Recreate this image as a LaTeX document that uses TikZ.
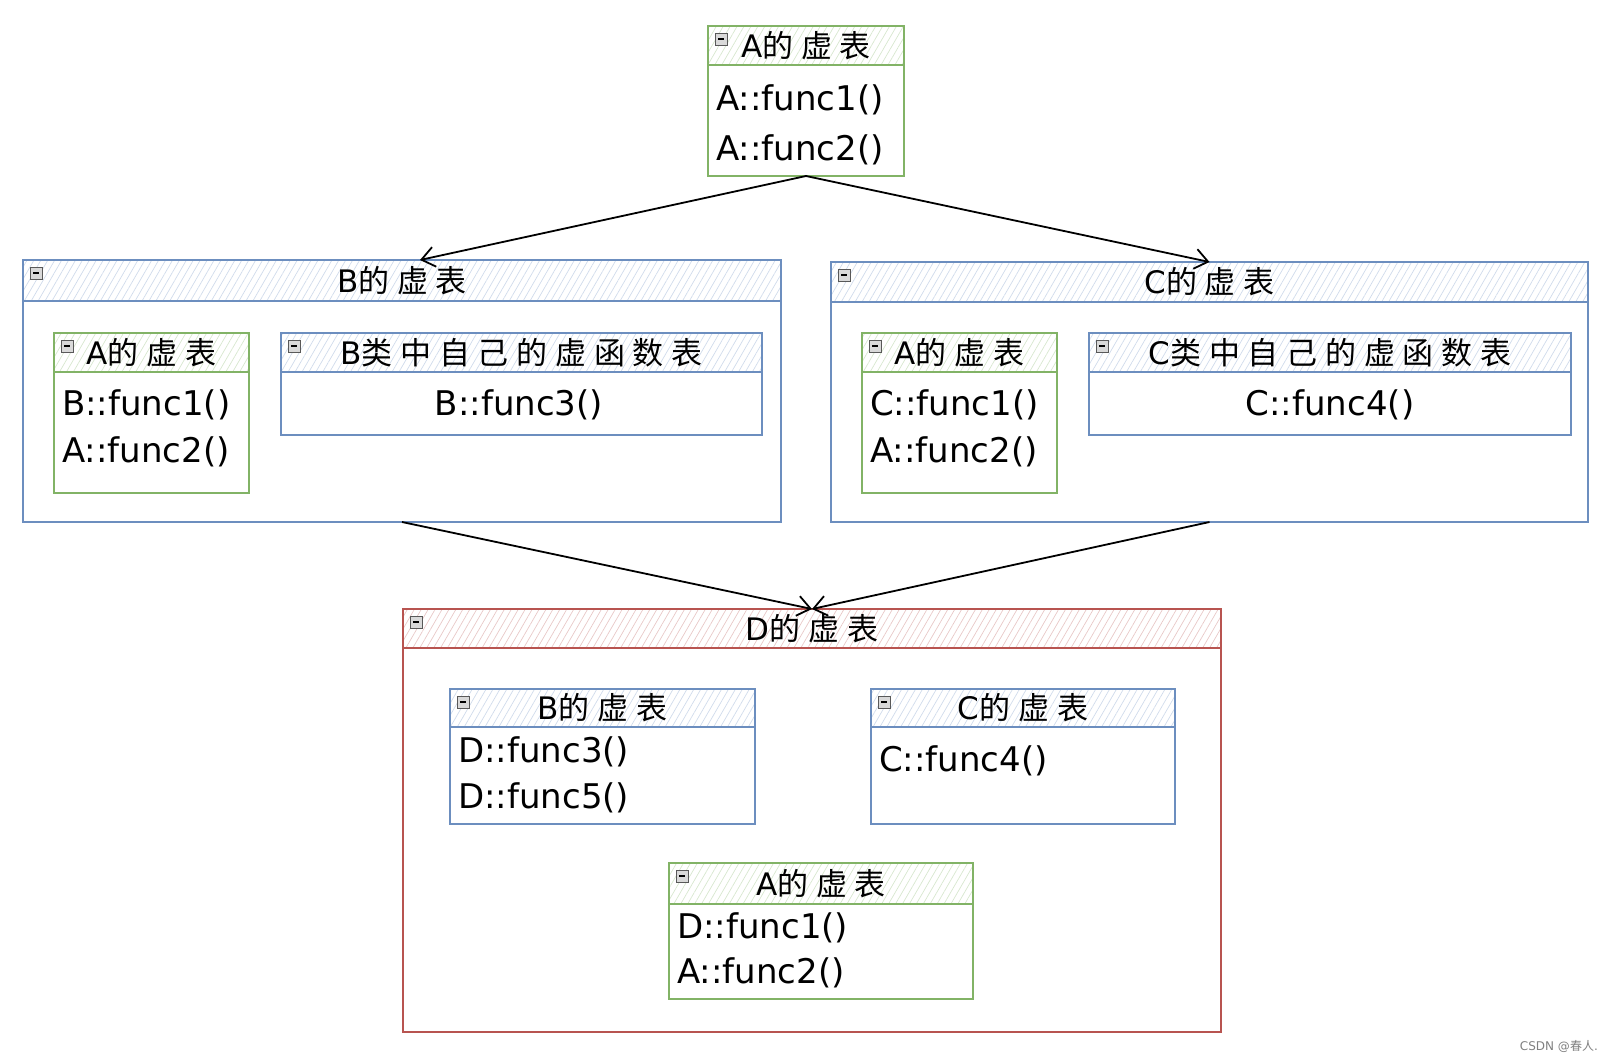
\documentclass[tikz,border=0pt]{standalone}
\usepackage{fontspec}
\setmainfont{DejaVu Sans}
\newfontfamily\cjk[LetterSpace=25]{Noto Sans CJK SC}
\newfontfamily\cjkplain{Noto Sans CJK SC}
\usepackage{tikz}
\usetikzlibrary{
	arrows.meta,									% 箭头
	patterns.meta,									% 表头的斜线填充
	positioning,									% 节点的相对摆放
}

\definecolor{gline}{HTML}{82B366}
\definecolor{bline}{HTML}{6C8EBF}
\definecolor{rline}{HTML}{B85450}
\newcommand\ttlfont{\fontsize{31}{37}\selectfont}
\newcommand\fnfont{\fontsize{34}{40}\selectfont}

\tikzset{
	tbl/.style={draw=#1, line width=1.5pt, rectangle, anchor=north west, inner sep=0pt, outer sep=0pt},
	hdr/.style={tbl=#1, pattern={Lines[angle=60,distance=6pt,line width=0.7pt]}, pattern color=#1!32, minimum height=39pt},
	icon/.style={draw=gray!70!black, fill=gray!30, line width=0.6pt, minimum size=12pt, inner sep=0pt, outer sep=0pt},
	ttl/.style={font=\ttlfont, inner sep=0pt},
	fn/.style={font=\fnfont, inner sep=0pt, anchor=west},
	link/.style={line width=1.8pt, -{Straight Barb[length=13pt,width=20pt,line width=1.8pt]}},
}

\begin{document}
\begin{tikzpicture}[x=1pt, y=-1pt]
	\useasboundingbox (0,0) rectangle (1609,1063);

	% A的虚表
	\node[tbl=gline, minimum width=196pt, minimum height=150pt] (tA) at (708,26) {};
	\node[hdr=gline, minimum width=196pt] (tAh) at (tA.north west) {};
	\node[icon, below right=7pt and 7pt of tAh.north west] (tAi) {\rule{6pt}{1.4pt}};
	\node[ttl] (tAt) at (tAh.center) {A{\cjk 的虚表}};
	\node[fn] (tA1) at (716,100) {A::func1()};
	\node[fn] (tA2) at (716,150) {A::func2()};

	% B的虚表
	\node[tbl=bline, minimum width=758pt, minimum height=262pt] (tB) at (23,260) {};
	\node[hdr=bline, minimum width=758pt, minimum height=41pt] (tBh) at (tB.north west) {};
	\node[icon, below right=7pt and 7pt of tBh.north west] (tBi) {\rule{6pt}{1.4pt}};
	\node[ttl] (tBt) at (tBh.center) {B{\cjk 的虚表}};

	\node[tbl=gline, minimum width=195pt, minimum height=160pt] (tBA) at (54,333) {};
	\node[hdr=gline, minimum width=195pt] (tBAh) at (tBA.north west) {};
	\node[icon, below right=7pt and 7pt of tBAh.north west] (tBAi) {\rule{6pt}{1.4pt}};
	\node[ttl] (tBAt) at (tBAh.center) {A{\cjk 的虚表}};
	\node[fn] (tBA1) at (62,405) {B::func1()};
	\node[fn] (tBA2) at (62,452) {A::func2()};

	\node[tbl=bline, minimum width=481pt, minimum height=102pt] (tBB) at (281,333) {};
	\node[hdr=bline, minimum width=481pt] (tBBh) at (tBB.north west) {};
	\node[icon, below right=7pt and 7pt of tBBh.north west] (tBBi) {\rule{6pt}{1.4pt}};
	\node[ttl] (tBBt) at (tBBh.center) {B{\cjk 类中自己的虚函数表}};
	\node[fn, anchor=center] (tBB1) at (519,405) {B::func3()};

	% C的虚表
	\node[tbl=bline, minimum width=757pt, minimum height=260pt] (tC) at (831,262) {};
	\node[hdr=bline, minimum width=757pt, minimum height=40pt] (tCh) at (tC.north west) {};
	\node[icon, below right=7pt and 7pt of tCh.north west] (tCi) {\rule{6pt}{1.4pt}};
	\node[ttl] (tCt) at (tCh.center) {C{\cjk 的虚表}};

	\node[tbl=gline, minimum width=195pt, minimum height=160pt] (tCA) at (862,333) {};
	\node[hdr=gline, minimum width=195pt] (tCAh) at (tCA.north west) {};
	\node[icon, below right=7pt and 7pt of tCAh.north west] (tCAi) {\rule{6pt}{1.4pt}};
	\node[ttl] (tCAt) at (tCAh.center) {A{\cjk 的虚表}};
	\node[fn] (tCA1) at (870,405) {C::func1()};
	\node[fn] (tCA2) at (870,452) {A::func2()};

	\node[tbl=bline, minimum width=482pt, minimum height=102pt] (tCC) at (1089,333) {};
	\node[hdr=bline, minimum width=482pt] (tCCh) at (tCC.north west) {};
	\node[icon, below right=7pt and 7pt of tCCh.north west] (tCCi) {\rule{6pt}{1.4pt}};
	\node[ttl] (tCCt) at (tCCh.center) {C{\cjk 类中自己的虚函数表}};
	\node[fn, anchor=center] (tCC1) at (1330,405) {C::func4()};

	% D的虚表
	\node[tbl=rline, minimum width=818pt, minimum height=423pt] (tD) at (403,609) {};
	\node[hdr=rline, minimum width=818pt] (tDh) at (tD.north west) {};
	\node[icon, below right=7pt and 7pt of tDh.north west] (tDi) {\rule{6pt}{1.4pt}};
	\node[ttl] (tDt) at (tDh.center) {D{\cjk 的虚表}};

	\node[tbl=bline, minimum width=305pt, minimum height=135pt] (tDB) at (450,689) {};
	\node[hdr=bline, minimum width=305pt, minimum height=38pt] (tDBh) at (tDB.north west) {};
	\node[icon, below right=7pt and 7pt of tDBh.north west] (tDBi) {\rule{6pt}{1.4pt}};
	\node[ttl] (tDBt) at (tDBh.center) {B{\cjk 的虚表}};
	\node[fn] (tDB1) at (458,752) {D::func3()};
	\node[fn] (tDB2) at (458,798) {D::func5()};

	\node[tbl=bline, minimum width=304pt, minimum height=135pt] (tDC) at (871,689) {};
	\node[hdr=bline, minimum width=304pt, minimum height=38pt] (tDCh) at (tDC.north west) {};
	\node[icon, below right=7pt and 7pt of tDCh.north west] (tDCi) {\rule{6pt}{1.4pt}};
	\node[ttl] (tDCt) at (tDCh.center) {C{\cjk 的虚表}};
	\node[fn] (tDC1) at (879,761) {C::func4()};

	\node[tbl=gline, minimum width=304pt, minimum height=136pt] (tDA) at (669,863) {};
	\node[hdr=gline, minimum width=304pt, minimum height=41pt] (tDAh) at (tDA.north west) {};
	\node[icon, below right=7pt and 7pt of tDAh.north west] (tDAi) {\rule{6pt}{1.4pt}};
	\node[ttl] (tDAt) at (tDAh.center) {A{\cjk 的虚表}};
	\node[fn] (tDA1) at (677,928) {D::func1()};
	\node[fn] (tDA2) at (677,973) {A::func2()};

	% 继承关系
	\draw[link] (tA.south) -- ([xshift=18pt]tB.north);
	\draw[link] (tA.south) -- (tC.north);
	\draw[link] (tB.south) -- (tD.north);
	\draw[link] (tC.south) -- (tD.north);

	\node[font=\fontsize{12}{14}\selectfont, text=gray, anchor=east, inner sep=0pt] (wm) at (1598,1046) {CSDN @{\cjkplain 春人}.};
\end{tikzpicture}
\end{document}
